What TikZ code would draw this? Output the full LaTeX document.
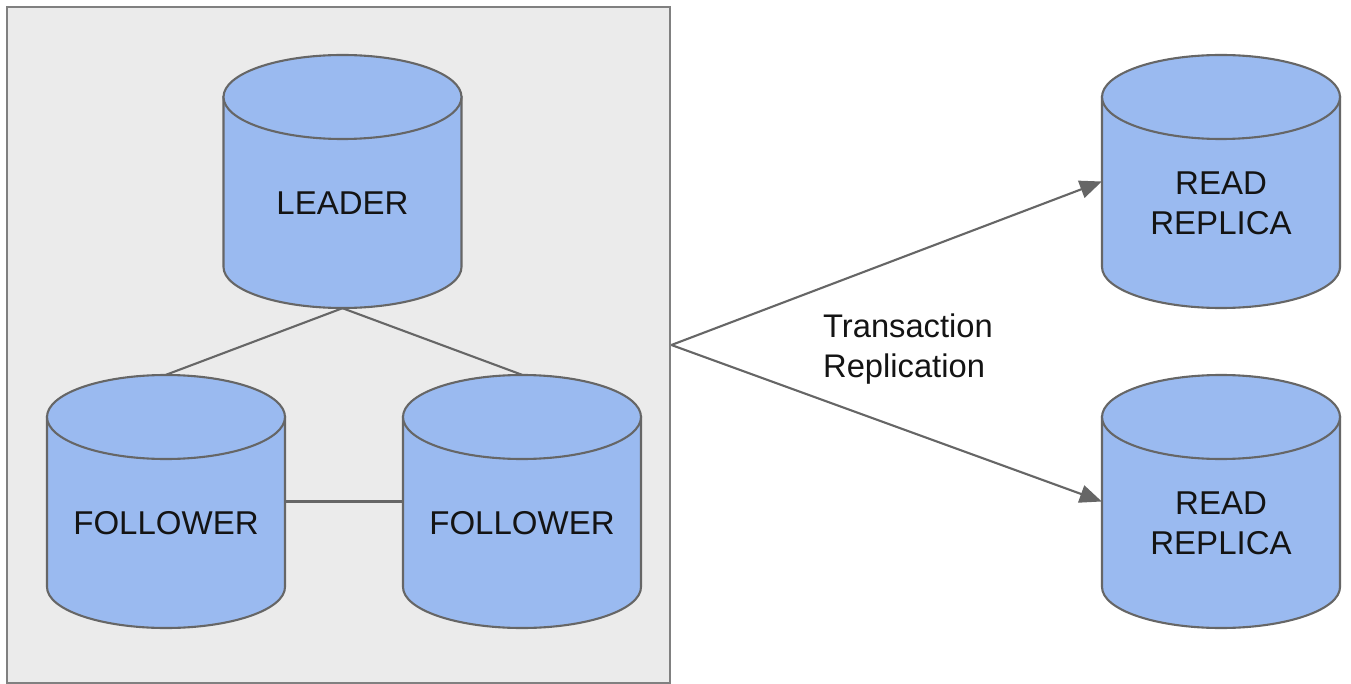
\documentclass[tikz,border=0pt]{standalone}
\usepackage{fontspec}
\setmainfont{Liberation Sans}
\usetikzlibrary{arrows.meta}
\definecolor{cylblue}{HTML}{9ABAF0}
\definecolor{linegray}{HTML}{666666}
\definecolor{boxgray}{HTML}{EBEBEB}
\definecolor{boxline}{HTML}{808080}
\tikzset{
  dbline/.style={draw=linegray, line width=2.1pt, fill=cylblue},
  dbbound/.style={shape=rectangle, minimum width=238pt, minimum height=253pt, inner sep=0pt},
  dbtext/.style={align=center, inner sep=0pt, text=black!92, font=\fontsize{33}{40}\selectfont},
  link/.style={draw=linegray, line width=2.1pt},
  arrowlink/.style={link, -{Triangle[length=22pt,width=18pt]}},
}
% name, centre x, centre y, text
\newcommand{\dbcyl}[4]{%
  \draw[dbline] (#2-119,#3-84.5) -- (#2-119,#3+85.5) arc[start angle=180,end angle=0,x radius=119,y radius=41] -- (#2+119,#3-84.5) -- cycle;
  \draw[dbline] (#2,#3-84.5) ellipse[x radius=119,y radius=42];
  \node[dbbound] (#1) at (#2,#3) {};
  \node[dbtext] (#1text) at (#2,#3+21.5) {#4};
}
\begin{document}
\begin{tikzpicture}[x=1pt,y=-1pt]
\useasboundingbox (0,0) rectangle (1351,684);
\fill[white] (0,0) rectangle (1351,684);
\node[draw=boxline, fill=boxgray, line width=2.8pt, minimum width=663pt, minimum height=676pt, inner sep=0pt] (box) at (338.5,345) {};
\dbcyl{leader}{342.5}{181.5}{LEADER}
\dbcyl{fa}{166}{501.5}{FOLLOWER}
\dbcyl{fb}{522}{501.5}{FOLLOWER}
\dbcyl{ra}{1221}{181.5}{READ\\REPLICA}
\dbcyl{rb}{1221}{501.5}{READ\\REPLICA}
\draw[link] (leader.south) -- (fa.north);
\draw[link] (leader.south) -- (fb.north);
\draw[link] (fa.east) -- (fb.west);
\draw[arrowlink] (box.east) -- (ra.west);
\draw[arrowlink] (box.east) -- (rb.west);
\node[align=left, inner sep=0pt, text=black!92, font=\fontsize{32.7}{40}\selectfont] (lbl) at (908,349.5) {Transaction\\Replication};
\end{tikzpicture}
\end{document}
